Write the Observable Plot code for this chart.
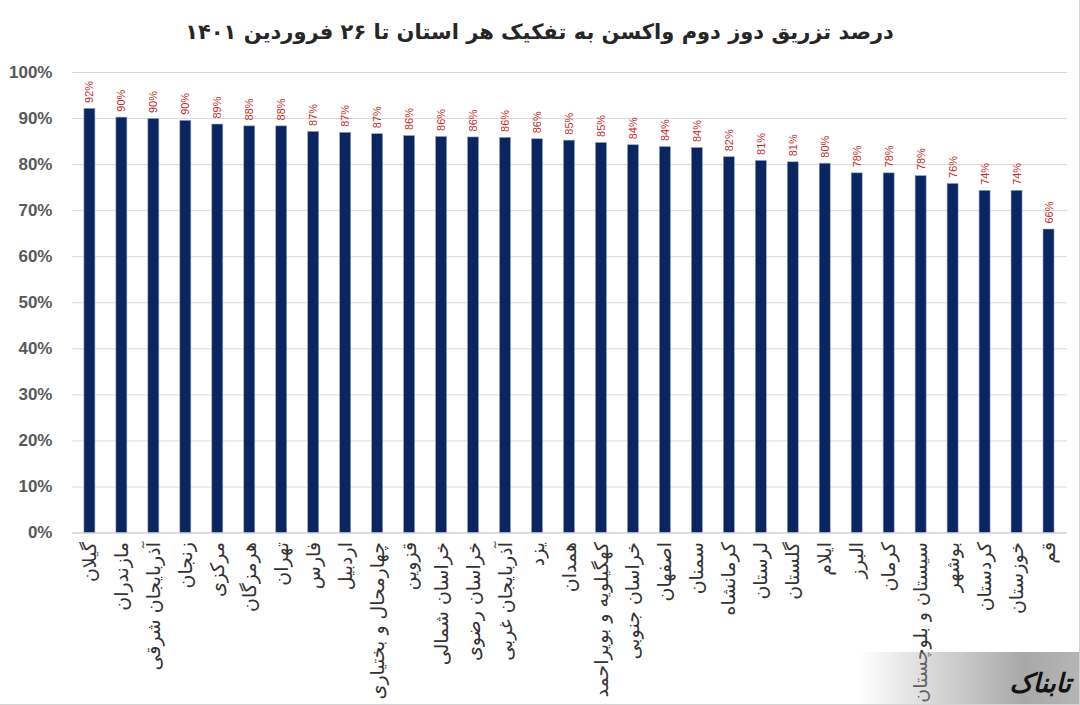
<!DOCTYPE html>
<html>
<head>
<meta charset="utf-8">
<script src="https://cdn.jsdelivr.net/npm/d3@7"></script>
<script src="https://cdn.jsdelivr.net/npm/@observablehq/plot@0.6"></script>
<style>
  html, body { margin: 0; padding: 0; background: #fff; }
  #wrap { position: relative; width: 1080px; height: 705px; overflow: hidden; box-sizing: border-box; border-right: 1px solid #d4d4d4; border-bottom: 1px solid #d4d4d4; }
  #title { height: 62px; line-height: 64px; text-align: center; direction: rtl; font-family: "DejaVu Sans", sans-serif; font-weight: bold; font-size: 21px; color: #262626; }
  #logo { position: absolute; right: 0; bottom: 0; width: 220px; height: 52px; background: linear-gradient(to right, rgba(255,255,255,0), #a8a8a8 75%, #b5b5b5); }
  #logo span { position: absolute; right: 8px; bottom: 6px; font-family: "DejaVu Sans", sans-serif; font-weight: bold; font-style: italic; font-size: 26px; color: #111; direction: rtl; }
</style>
</head>
<body>
<div id="wrap">
  <div id="title">درصد تزریق دوز دوم واکسن به تفکیک هر استان تا ۲۶ فروردین ۱۴۰۱</div>
  <div id="chart"></div>
  <div id="logo"><span>تابناک</span></div>
</div>
<script>
const provinces = ["گیلان","مازندران","آذربایجان شرقی","زنجان","مرکزی","هرمزگان","تهران","فارس","اردبیل","چهارمحال و بختیاری","قزوین","خراسان شمالی","خراسان رضوی","آذربایجان غربی","یزد","همدان","کهگیلویه و بویراحمد","خراسان جنوبی","اصفهان","سمنان","کرمانشاه","لرستان","گلستان","ایلام","البرز","کرمان","سیستان و بلوچستان","بوشهر","کردستان","خوزستان","قم"];
const values = [92.1, 90.2, 89.9, 89.5, 88.7, 88.3, 88.3, 87.1, 86.9, 86.6, 86.2, 86.0, 85.9, 85.8, 85.5, 85.2, 84.7, 84.2, 83.8, 83.6, 81.6, 80.8, 80.5, 80.2, 78.1, 78.1, 77.5, 75.8, 74.3, 74.3, 65.9];
const yTicks = [0, 10, 20, 30, 40, 50, 60, 70, 80, 90, 100];

const data = provinces.map((p, i) => ({province: p, value: values[i]}));

const chart = Plot.plot({
  width: 1080,
  height: 643,
  marginTop: 10,
  marginBottom: 172,
  marginLeft: 72,
  marginRight: 12,
  style: {background: "transparent"},
  x: {domain: provinces, paddingInner: 0.65, paddingOuter: 0.3, label: null},
  y: {domain: [0, 100], label: null},
  marks: [
    Plot.gridY(yTicks, {stroke: "#d9d9d9", strokeOpacity: 1}),
    Plot.barY(data, {x: "province", y: "value", fill: "#0b2560", stroke: "#8ea3c8", strokeWidth: 0.6}),
    Plot.ruleY([0], {stroke: "#d0d0d0", strokeWidth: 1}),
    Plot.text(data, {x: "province", y: "value", text: d => Math.round(d.value) + "%", rotate: -90, textAnchor: "start", dy: -6, fill: "#c42b2b", fontSize: 11, fontFamily: "Liberation Sans, Arial, sans-serif"}),
    Plot.axisY({ticks: yTicks, tickFormat: d => d + "%", tickSize: 0, tickPadding: 20, fontSize: 17, fontWeight: "bold", fill: "#595959", fontFamily: "Liberation Sans, Arial, sans-serif", label: null}),
    Plot.axisX({tickSize: 0, tickPadding: 9, tickRotate: -90, fontSize: 19, fill: "#333", fontFamily: "DejaVu Sans, sans-serif", label: null})
  ]
});
document.getElementById("chart").appendChild(chart);
</script>
</body>
</html>
